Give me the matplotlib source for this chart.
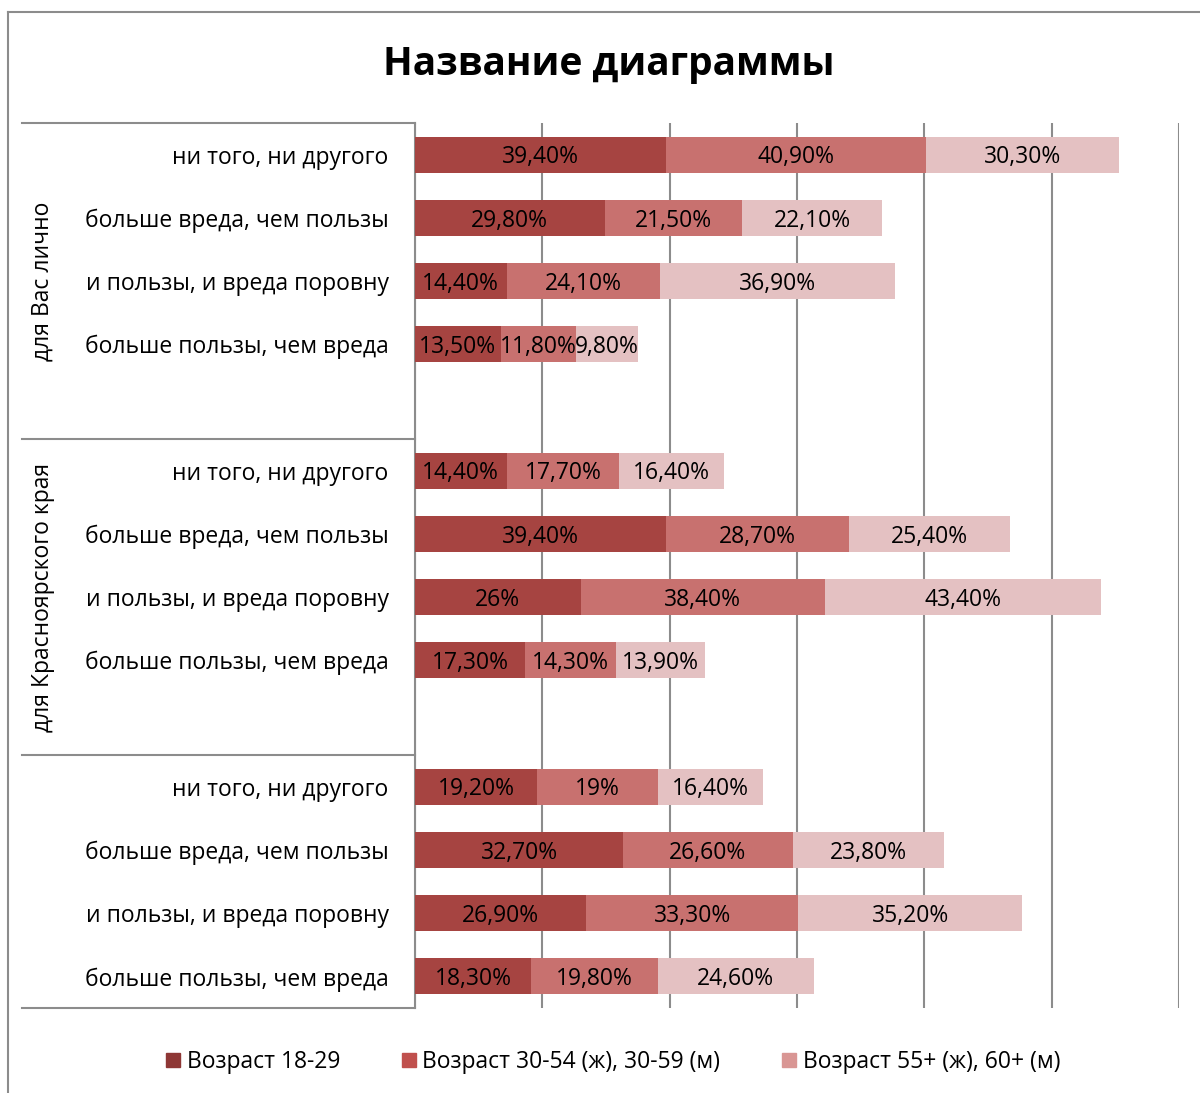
import matplotlib.pyplot as plt
from matplotlib.patches import Patch

plt.rcParams['font.family'] = ['Open Sans', 'DejaVu Sans']

# ---------------- данные ----------------
groups = ['для Вас лично', 'для Красноярского края', '']
answers = ['ни того, ни другого', 'больше вреда, чем пользы',
           'и пользы, и вреда поровну', 'больше пользы, чем вреда']
series_names = ['Возраст 18-29', 'Возраст 30-54 (ж), 30-59 (м)', 'Возраст 55+ (ж), 60+ (м)']

age_18_29 = [39.4, 29.8, 14.4, 13.5,
             14.4, 39.4, 26.0, 17.3,
             19.2, 32.7, 26.9, 18.3]
age_30_54 = [40.9, 21.5, 24.1, 11.8,
             17.7, 28.7, 38.4, 14.3,
             19.0, 26.6, 33.3, 19.8]
age_55 = [30.3, 22.1, 36.9, 9.8,
          16.4, 25.4, 43.4, 13.9,
          16.4, 23.8, 35.2, 24.6]

bar_colors = ['#a64441', '#c8716f', '#e4c1c2']
legend_colors = ['#8e3735', '#c0504d', '#d99694']

# позиции строк: 5 слотов на группу (4 ответа + пустой), у последней группы пустого нет
rows = []
for g in range(len(groups)):
    for i in range(len(answers)):
        rows.append(g * 5 + i)
n_slots = 14


def fmt(v):
    if v == int(v):
        return f'{int(v)}%'
    return f'{v:.2f}%'.replace('.', ',')


fig = plt.figure(figsize=(12, 10.93), dpi=100)
ax = fig.add_axes([0.3458, 0.0778, 0.6367, 0.8097])

left = [0] * len(rows)
for vals, col in zip([age_18_29, age_30_54, age_55], bar_colors):
    bars = ax.barh(rows, vals, left=left, height=0.57, color=col, zorder=3)
    anns = ax.bar_label(bars, labels=[fmt(v) for v in vals], label_type='center',
                        fontsize=16.5, color='black')
    for a in anns:
        a.xyann = (0, -2)
    left = [a + b for a, b in zip(left, vals)]

ax.set_xlim(0, 120)
ax.set_ylim(n_slots - 0.5, -0.5)
ax.set_xticks(range(0, 121, 20))
ax.tick_params(axis='x', length=0, labelbottom=False)
ax.xaxis.grid(True, color='#8c8c8c', linewidth=1.5, zorder=0)

ax.set_yticks(rows, answers * len(groups), fontsize=16.5)
ax.tick_params(axis='y', length=0, pad=19)

for s in ['top', 'right', 'bottom']:
    ax.spines[s].set_visible(False)
ax.spines['left'].set_color('#8c8c8c')
ax.spines['left'].set_linewidth(1.5)

# многоуровневая ось категорий
tr = ax.get_yaxis_transform()
x_left = -0.5144
for yb in [-0.5, 4.5, 9.5, n_slots - 0.5]:
    ax.plot([x_left, 0], [yb, yb], transform=tr, color='#8c8c8c',
            linewidth=1.5, clip_on=False)
for g, name in enumerate(groups):
    if name:
        ax.text(-0.487, g * 5 + 2, name, transform=tr, rotation=90,
                ha='center', va='center', fontsize=16.5)

# рамка диаграммы
fig.add_artist(plt.Line2D([8 / 1200, 8 / 1200], [0, 1 - 12 / 1093],
                          color='#8c8c8c', linewidth=1.5))
fig.add_artist(plt.Line2D([8 / 1200, 1], [1 - 12 / 1093, 1 - 12 / 1093],
                          color='#8c8c8c', linewidth=1.5))

fig.text(0.507, 1 - 65 / 1093, 'Название диаграммы', ha='center', va='center',
         fontsize=28, fontweight='bold')

handles = [Patch(color=c) for c in legend_colors]
fig.legend(handles, series_names, loc='center', bbox_to_anchor=(0.511, 1 - 1062 / 1093),
           ncol=3, frameon=False, fontsize=16.5, handlelength=0.6, handleheight=0.6,
           handletextpad=0.3, columnspacing=2.7)

fig.savefig('out.png', dpi=100)
